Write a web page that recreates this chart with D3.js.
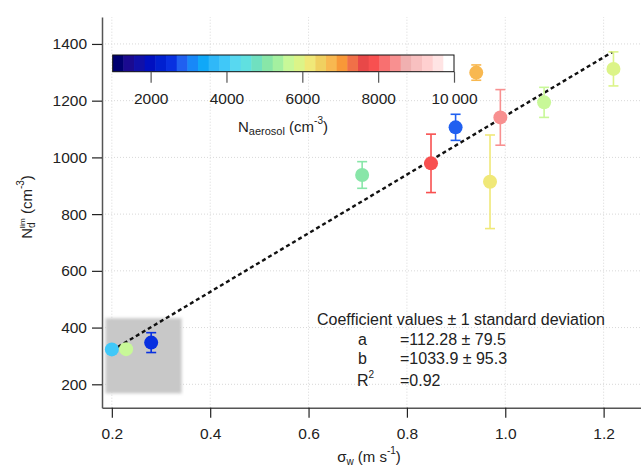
<!DOCTYPE html>
<meta charset="utf-8">
<style>
body { margin: 0; background: #fff; }
svg text { font-family: "Liberation Sans", Arial, sans-serif; fill: #222; }
.grid line { stroke: #d8d8d8; stroke-dasharray: 1,2; }
</style>
<svg width="641" height="469"></svg>
<script src="https://d3js.org/d3.v7.min.js"></script>
<script>
// sigma_w (m s-1), N_d^lim (cm-3), error, N_aerosol (cm-3)
var sigmaW   = [0.20, 0.229, 0.28, 0.709, 0.849, 0.899, 0.941, 0.969, 0.990, 1.079, 1.220];
var ndLim    = [323, 324, 347, 938, 979, 1106, 1299, 914, 1141, 1194, 1312];
var ndErr    = [0, 0, 35, 47, 103, 46, 27, 165, 98, 53, 60];
var nAerosol = [3900, 5600, 2500, 5000, 7800, 2800, 6700, 6300, 8500, 5600, 5900];

var xTicks = [0.2, 0.4, 0.6, 0.8, 1.0, 1.2];
var yTicks = [200, 400, 600, 800, 1000, 1200, 1400];
var cTicks = [2000, 4000, 6000, 8000, 10000];

// fit coefficients
var fitA = 112.28, fitB = 1033.9;

// colour table, 32 steps
var palette = ["#000070","#1a0a90","#1010a8","#0010c0","#0020d0","#0830e0","#2060f0","#1888f8",
  "#10a8f8","#30b8f8","#40c8f8","#58d8f0","#60e0e0","#70e0c0","#88e6a8","#a4f0a0",
  "#c8f898","#dcf488","#f0e878","#f0d060","#f8b850","#f89838","#f07048","#e84848",
  "#f85050","#f87070","#f89090","#f0b0b0","#f8c0c0","#ffd0d0","#ffe4e4","#ffffff"];

var svg = d3.select("svg");

var x = d3.scaleLinear().domain([0.18, 1.276]).range([102, 641]);
var y = d3.scaleLinear().domain([117.5, 1495]).range([407.7, 17]);
var color = d3.scaleQuantize().domain([1000, 10000]).range(palette);

// grid
var grid = svg.append("g").attr("class", "grid");
grid.selectAll(".gx").data(xTicks).enter().append("line")
  .attr("x1", d => x(d)).attr("x2", d => x(d))
  .attr("y1", y.range()[0]).attr("y2", y.range()[1]);
grid.selectAll(".gy").data(yTicks).enter().append("line")
  .attr("x1", x.range()[0]).attr("x2", x.range()[1])
  .attr("y1", d => y(d)).attr("y2", d => y(d));

// shaded box round the low points
var defs = svg.append("defs");
defs.append("filter").attr("id", "blur")
  .attr("x", "-20%").attr("y", "-20%").attr("width", "140%").attr("height", "140%")
  .append("feGaussianBlur").attr("stdDeviation", 1.8);
svg.append("rect")
  .attr("x", x(0.187)).attr("y", y(433))
  .attr("width", x(0.342) - x(0.187)).attr("height", y(168) - y(433))
  .attr("fill", "#c8c8c8").attr("filter", "url(#blur)");

// axes
var xAxis = svg.append("g").attr("transform", "translate(0," + y.range()[0] + ")")
  .call(d3.axisBottom(x).tickValues(xTicks).tickFormat(d3.format(".1f")).tickSize(10).tickSizeOuter(0));
var yAxis = svg.append("g").attr("transform", "translate(" + x.range()[0] + ",0)")
  .call(d3.axisLeft(y).tickValues(yTicks).tickFormat(d3.format("d")).tickSize(10).tickSizeOuter(0));
[xAxis, yAxis].forEach(function(a) {
  a.select(".domain").attr("stroke", "#555").attr("stroke-width", 1.5);
  a.selectAll(".tick line").attr("stroke", "#222").attr("stroke-width", 1.2);
  a.selectAll(".tick text").attr("font-size", 15.5).attr("fill", "#222")
    .style("font-family", "Liberation Sans, Arial, sans-serif");
});
xAxis.selectAll(".tick text").attr("dy", "1.2em");
yAxis.selectAll(".tick text").attr("x", -15);

// fit line
svg.append("line")
  .attr("x1", x(0.2)).attr("y1", y(fitA + fitB * 0.2))
  .attr("x2", x(1.218)).attr("y2", y(fitA + fitB * 1.218))
  .attr("stroke", "#111").attr("stroke-width", 2.4).attr("stroke-dasharray", "4,3");

// points
var pts = d3.range(sigmaW.length);
var eb = svg.append("g");
pts.filter(i => ndErr[i] > 0).forEach(function(i) {
  var c = color(nAerosol[i]), cx = x(sigmaW[i]);
  var t = y(ndLim[i] + ndErr[i]), b = y(ndLim[i] - ndErr[i]);
  eb.append("line").attr("x1", cx).attr("x2", cx).attr("y1", t).attr("y2", b)
    .attr("stroke", c).attr("stroke-width", 1.6);
  [t, b].forEach(function(yy) {
    eb.append("line").attr("x1", cx - 5).attr("x2", cx + 5).attr("y1", yy).attr("y2", yy)
      .attr("stroke", c).attr("stroke-width", 1.6);
  });
});
svg.append("g").selectAll("circle").data(pts).enter().append("circle")
  .attr("cx", i => x(sigmaW[i])).attr("cy", i => y(ndLim[i]))
  .attr("r", 7).attr("fill", i => color(nAerosol[i]));

// colour bar
var cx = d3.scaleLinear().domain([1000, 10000]).range([112.7, 454]);
var cb = svg.append("g");
var step = 9000 / palette.length;
cb.selectAll("rect").data(palette).enter().append("rect")
  .attr("x", (d, i) => cx(1000 + i * step)).attr("y", 55)
  .attr("width", cx(1000 + step) - cx(1000) + 0.5).attr("height", 16.7)
  .attr("fill", d => d);
cb.append("rect").attr("x", cx(1000)).attr("y", 55)
  .attr("width", cx(10000) - cx(1000)).attr("height", 16.7)
  .attr("fill", "none").attr("stroke", "#111").attr("stroke-width", 1);
var cAxis = cb.append("g").attr("transform", "translate(0,71.7)")
  .call(d3.axisBottom(cx).tickValues(cTicks).tickSize(11).tickSizeOuter(0)
    .tickFormat(d => d === 10000 ? "10\u2009000" : d));
cAxis.select(".domain").remove();
cAxis.selectAll(".tick line").attr("stroke", "#555").attr("stroke-width", 1.2);
cAxis.selectAll(".tick text").attr("font-size", 15.5).attr("fill", "#222").attr("dy", "1.15em")
  .style("font-family", "Liberation Sans, Arial, sans-serif");

var ct = svg.append("text").attr("x", 283).attr("y", 132).attr("text-anchor", "middle").attr("font-size", 15);
ct.append("tspan").text("N");
ct.append("tspan").attr("font-size", 11).attr("dy", 3).text("aerosol");
ct.append("tspan").attr("dy", -3).text(" (cm");
ct.append("tspan").attr("font-size", 10).attr("dy", -8).text("-3");
ct.append("tspan").attr("dy", 8).text(")");

// axis titles
var xt = svg.append("text").attr("x", 369).attr("y", 462).attr("text-anchor", "middle").attr("font-size", 15);
xt.append("tspan").text("\u03c3");
xt.append("tspan").attr("font-size", 10).attr("dy", 3).text("w");
xt.append("tspan").attr("dy", -3).text(" (m s");
xt.append("tspan").attr("font-size", 10).attr("dy", -8).text("-1");
xt.append("tspan").attr("dy", 8).text(")");

var yt = svg.append("text").attr("transform", "translate(32,207) rotate(-90)")
  .attr("text-anchor", "middle").attr("font-size", 15);
yt.append("tspan").text("N");
yt.append("tspan").attr("font-size", 10).attr("dy", 3).text("d");
yt.append("tspan").attr("font-size", 8).attr("dx", -6).attr("dy", -10).text("lim");
yt.append("tspan").attr("dy", 7).text(" (cm");
yt.append("tspan").attr("font-size", 10).attr("dy", -8).text("-3");
yt.append("tspan").attr("dy", 8).text(")");

// coefficient box
var ann = svg.append("g").attr("font-size", 16);
ann.append("text").attr("x", 317).attr("y", 325).text("Coefficient values \u00b1 1 standard deviation");
var coefNames = ["a", "b"];
var coefText = ["=112.28 \u00b1 79.5", "=1033.9 \u00b1 95.3"];
coefNames.forEach(function(n, i) {
  ann.append("text").attr("x", 358).attr("y", 345 + i * 19).text(n);
  ann.append("text").attr("x", 400).attr("y", 345 + i * 19).text(coefText[i]);
});
var r2 = ann.append("text").attr("x", 357).attr("y", 386);
r2.append("tspan").text("R");
r2.append("tspan").attr("font-size", 10).attr("dy", -8).text("2");
ann.append("text").attr("x", 400).attr("y", 386).text("=0.92");
</script>
